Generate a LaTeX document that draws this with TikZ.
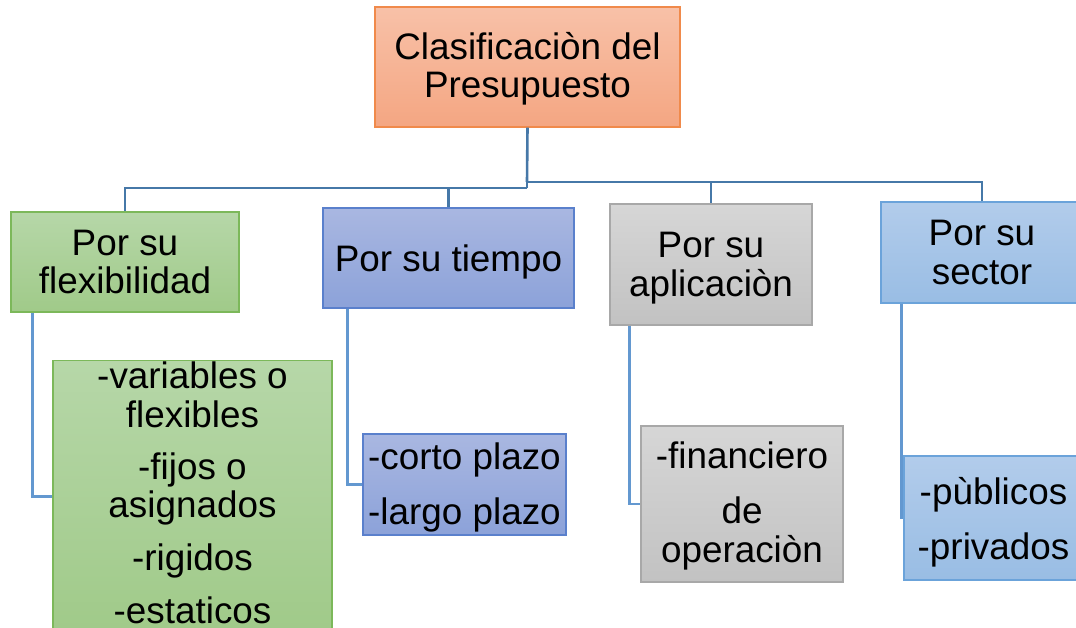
\documentclass[tikz,border=0pt]{standalone}
\usepackage{fontspec}
\setmainfont{Liberation Sans}
\definecolor{orT}{HTML}{F8C1A8}
\definecolor{orB}{HTML}{F4A682}
\definecolor{orD}{HTML}{F08A4B}
\definecolor{grT}{HTML}{B6D7A8}
\definecolor{grB}{HTML}{A0CA89}
\definecolor{grD}{HTML}{7CB85A}
\definecolor{blT}{HTML}{A9B7E1}
\definecolor{blB}{HTML}{8CA2D9}
\definecolor{blD}{HTML}{5A80CC}
\definecolor{gyT}{HTML}{D6D6D6}
\definecolor{gyB}{HTML}{C2C2C2}
\definecolor{gyD}{HTML}{A8A8A8}
\definecolor{lbT}{HTML}{B2CCEB}
\definecolor{lbB}{HTML}{99BDE4}
\definecolor{lbD}{HTML}{6BA3DA}
\definecolor{cA}{HTML}{4678A8}
\definecolor{cB}{HTML}{6398D0}
\newcommand{\upstrut}[1]{\rule{0pt}{#1bp}}
\begin{document}
\begin{tikzpicture}[x=1bp,y=-1bp,
  box/.style={draw, line width=1.2bp, align=center, inner sep=0pt,
    font=\fontsize{37}{38.5}\selectfont, text=black},
  orbox/.style={box, draw=orD, top color=orT, bottom color=orB},
  grbox/.style={box, draw=grD, top color=grT, bottom color=grB},
  blbox/.style={box, draw=blD, top color=blT, bottom color=blB},
  gybox/.style={box, draw=gyD, top color=gyT, bottom color=gyB},
  lbbox/.style={box, draw=lbD, top color=lbT, bottom color=lbB},
  conna/.style={draw=cA, line width=2.6bp},
  connb/.style={draw=cB, line width=2.4bp}]
\useasboundingbox (0,0) rectangle (1076,628);
\clip (0,0) rectangle (1076,628);

\coordinate (jr) at (527,182);
\coordinate (jl) at (527,188);

% main box
\node[orbox, minimum width=305bp, minimum height=120bp] (top) at (527.5,67) {\upstrut{31}Clasificaciòn del\\Presupuesto};

% level 1
\node[grbox, minimum width=228bp, minimum height=100bp] (f1) at (125,262) {Por su\\flexibilidad};
\node[blbox, minimum width=251bp, minimum height=100bp] (t1) at (448.5,258) {\upstrut{34.5}Por su tiempo};
\node[gybox, minimum width=202bp, minimum height=121bp] (a1) at (711,264.5) {\upstrut{32.5}Por su\\aplicaciòn};
\node[lbbox, minimum width=202bp, minimum height=101bp] (s1) at (982,252.5) {Por su\\sector};

% level 2
\node[grbox, anchor=north, minimum width=279bp, inner ysep=1.5bp, text depth=8bp] (g2) at (192.5,360)
  {-variables o\\flexibles\\[13.5bp]-fijos o\\asignados\\[14.5bp]-rigidos\\[14.5bp]-estaticos};
\node[blbox, minimum width=203bp, minimum height=101bp] (t2) at (464.5,484.5) {\upstrut{33.5}-corto plazo\\[16.5bp]-largo plazo};
\node[gybox, minimum width=202bp, minimum height=156bp] (a2) at (742,504) {\upstrut{30.5}-financiero\\[16.5bp]de\\operaciòn};
\node[lbbox, minimum width=179bp, minimum height=124bp] (s2) at (993.5,518) {\upstrut{35.5}-pùblicos\\[16.5bp]-privados};

% level-1 connectors
\draw[conna] (top.south) -- (jr);
\draw[conna] (jr) -| (s1.north);
\draw[conna] (jr) -| (a1.north);
\draw[conna] (jr) -- (jl);
\draw[conna] (jl) -| (t1.north);
\draw[conna] (jl) -| (f1.north);

% level-2 connectors
\draw[connb] ([xshift=22bp]f1.south west) |- (g2.west);
\draw[connb] ([xshift=25bp]t1.south west) |- (t2.west);
\draw[connb] ([xshift=20bp]a1.south west) |- (a2.west);
\draw[connb] ([xshift=21bp]s1.south west) |- (s2.west);
\end{tikzpicture}
\end{document}
